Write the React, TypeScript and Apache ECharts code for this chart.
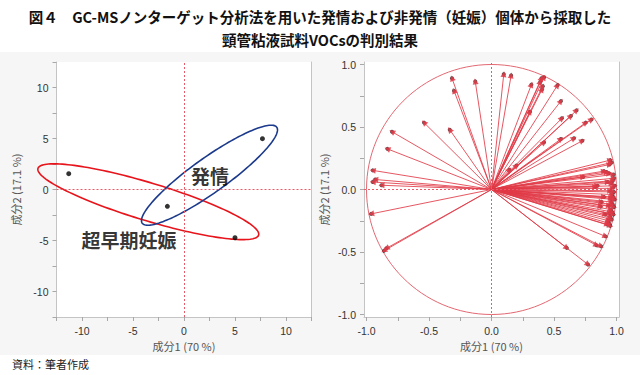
import React, { useEffect, useRef } from "react";
import * as echarts from "echarts";

const titleLines = [
  "図４　GC-MSノンターゲット分析法を用いた発情および非発情（妊娠）個体から採取した",
  "頸管粘液試料VOCsの判別結果",
];
const sourceNote = "資料：筆者作成";
const xName = "成分1 (70 %)";
const yName = "成分2 (17.1 %)";

// Score plot (left)
const scoreX = [-11.3, -1.63, 5.0, 7.69];
const scoreY = [1.55, -1.65, -4.73, 4.98];

// Group ellipses (data units): centre, semi-axes, rotation in degrees
const ellipseCx = [-3.5, 2.5];
const ellipseCy = [-1.2, 1.4];
const ellipseA = [11.3, 8.1];
const ellipseB = [1.85, 1.7];
const ellipseAngle = [-16.8, 35.5];
const ellipseColors = ["#e8141c", "#1c3a8c"];

const groupNames = ["超早期妊娠", "発情"];
const groupLabelX = [-5.4, 2.55];
const groupLabelY = [-4.9, 1.42];

const scoreMin = -12.5;
const scoreMax = 12.5;
const scoreTickStep = 2.5;
const scoreTickLabels = [-10, -5, 0, 5, 10];

// Loading plot (right)
const loadMin = -1.02;
const loadMax = 1.02;
const loadTicks = [-1, -0.75, -0.5, -0.25, 0, 0.25, 0.5, 0.75, 1];
const loadTickLabels = [-1, -0.5, 0, 0.5, 1];
const circleRadius = 1;
const zeroLine = 0;

const loadX = [
  // upper / left side
  -0.316, -0.3, -0.13, -0.54, -0.334, -0.796, -0.833, -0.95, -0.93, -0.95, -0.88, -0.963, -0.86, -0.84,
  // upper right
  0.098, 0.157, 0.319, 0.4, 0.42, 0.39, 0.41, 0.404, 0.528, 0.555, 0.308, 0.563, 0.635, 0.68, 0.754, 0.8,
  0.555, 0.66, 0.727, 0.42, 0.143, 0.2,
  // right cluster
  0.95, 0.945, 0.96, 0.9, 0.94, 0.975, 0.733, 0.92, 0.847, 0.98, 0.97, 0.96, 0.985, 0.97, 0.95, 0.98,
  0.965, 0.975, 0.955, 0.985, 0.96, 0.97, 0.94, 0.873, 0.98, 0.955, 0.965, 0.945, 0.975, 0.95, 0.96,
  0.935, 0.94, 0.926, 0.95, 0.912, 0.84, 0.876, 0.602, 0.772, 0.9, 0.88, 0.83, 0.91, 0.93,
];
const loadY = [
  0.89, 0.79, 0.865, 0.535, 0.478, 0.462, 0.325, 0.153, 0.08, 0.06, 0.034, -0.195, -0.49, -0.47,
  0.923, 0.913, 0.839, 0.89, 0.897, 0.86, 0.826, 0.8, 0.834, 0.707, 0.622, 0.57, 0.588, 0.633, 0.535, 0.56,
  0.404, 0.41, 0.39, 0.377, 0.158, 0.192,
  0.235, 0.2, 0.215, 0.147, 0.13, 0.12, 0.1, 0.14, 0.03, 0.09, 0.07, 0.05, 0.03, 0.01, -0.01, -0.02,
  -0.04, -0.06, -0.07, -0.08, -0.1, -0.12, -0.13, -0.137, -0.14, -0.16, -0.18, -0.19, -0.2, -0.22, -0.24,
  -0.25, -0.27, -0.28, -0.29, -0.375, -0.446, -0.454, -0.467, -0.6, -0.06, -0.1, 0.02, -0.2, 0.06,
];

const AXIS_GRAY = "#c4c4c4";
const TICK_GRAY = "#a8a8a8";
const LABEL_FONT = "Liberation Sans";
const CJK_FONT = "Noto Sans CJK JP";

function makeAxis(kind: "x" | "y", gridIndex: number, min: number, max: number, right: boolean) {
  const base: any = {
    type: "value",
    gridIndex,
    min,
    max,
    name: kind === "x" ? xName : yName,
    nameLocation: "middle",
    nameGap: kind === "x" ? 20 : 35,
    nameTextStyle: { fontSize: 11, color: "#555", fontFamily: CJK_FONT },
    axisLine: { show: true, onZero: false, lineStyle: { color: AXIS_GRAY, width: 1 } },
    splitLine: { show: false },
    axisTick: { show: true, inside: false, length: 4, lineStyle: { color: TICK_GRAY } },
    axisLabel: { color: "#333", fontSize: 10.5, fontFamily: LABEL_FONT, margin: 8 },
  };
  if (!right) {
    base.interval = scoreTickStep;
    base.axisLabel.formatter = (v: number) => (scoreTickLabels.indexOf(v) >= 0 ? String(v) : "");
  } else {
    base.axisTick.customValues = loadTicks;
    base.axisLabel.customValues = loadTickLabels;
    base.axisLabel.formatter = (v: number) => v.toFixed(1);
  }
  return base;
}

function borderAxis(gridIndex: number, min: number, max: number) {
  return {
    type: "value",
    gridIndex,
    position: "right",
    min,
    max,
    axisLine: { show: true, onZero: false, lineStyle: { color: AXIS_GRAY, width: 1 } },
    axisTick: { show: false },
    axisLabel: { show: false },
    splitLine: { show: false },
  };
}

function zeroMarkLine() {
  return {
    silent: true,
    symbol: ["none", "none"],
    label: { show: false },
    lineStyle: { type: [2, 2], color: "#ea5a68", width: 1, opacity: 1 },
    emphasis: { disabled: true },
    data: [
      { xAxis: zeroLine, lineStyle: { color: "#ea5a68", type: [2, 2] } },
      { yAxis: zeroLine, lineStyle: { color: "#ea5a68", type: [2, 2] } },
    ],
  };
}

export default function App() {
  const ref = useRef<HTMLDivElement>(null);

  useEffect(() => {
    if (!ref.current) return;
    const chart = echarts.init(ref.current, undefined, { renderer: "svg" });

    const option: any = {
      animation: false,
      backgroundColor: "#ffffff",
      graphic: [
        {
          type: "rect",
          z: -10,
          silent: true,
          shape: { x: 0, y: 52, width: 640, height: 303 },
          style: { fill: "#f6f6f6" },
        },
        {
          type: "text",
          x: 320,
          y: 16,
          style: {
            text: titleLines[0],
            textAlign: "center",
            textVerticalAlign: "middle",
            font: `bold 14.5px "${CJK_FONT}"`,
            fill: "#111",
          },
        },
        {
          type: "text",
          x: 320,
          y: 39.5,
          style: {
            text: titleLines[1],
            textAlign: "center",
            textVerticalAlign: "middle",
            font: `bold 14.5px "${CJK_FONT}"`,
            fill: "#111",
          },
        },
        {
          type: "text",
          x: 12,
          y: 364,
          style: {
            text: sourceNote,
            textAlign: "left",
            textVerticalAlign: "middle",
            font: `11px "${CJK_FONT}"`,
            fill: "#222",
          },
        },
      ],
      grid: [
        { left: 56.5, top: 62, width: 255, height: 255, show: true, backgroundColor: "#fff", borderWidth: 0 },
        { left: 364, top: 62, width: 255, height: 255, show: true, backgroundColor: "#fff", borderWidth: 0 },
      ],
      xAxis: [makeAxis("x", 0, scoreMin, scoreMax, false), makeAxis("x", 1, loadMin, loadMax, true)],
      yAxis: [
        makeAxis("y", 0, scoreMin, scoreMax, false),
        borderAxis(0, scoreMin, scoreMax),
        makeAxis("y", 1, loadMin, loadMax, true),
        borderAxis(1, loadMin, loadMax),
      ],
      series: [
        // ---- left: zero lines (drawn first, beneath everything)
        {
          type: "scatter",
          xAxisIndex: 0,
          yAxisIndex: 0,
          symbolSize: 0,
          silent: true,
          data: [],
          markLine: zeroMarkLine(),
          z: 1,
        },
        // ---- left: ellipses
        {
          type: "custom",
          xAxisIndex: 0,
          yAxisIndex: 0,
          clip: false,
          silent: true,
          encode: { x: 0, y: 1 },
          data: ellipseCx.map((cx, i) => [cx, ellipseCy[i]]),
          renderItem: (params: any, api: any) => {
            const i = params.dataIndex;
            const th = (ellipseAngle[i] * Math.PI) / 180;
            const pts: number[][] = [];
            const n = 160;
            for (let k = 0; k <= n; k++) {
              const t = (k / n) * Math.PI * 2;
              const u = ellipseA[i] * Math.cos(t);
              const v = ellipseB[i] * Math.sin(t);
              const x = ellipseCx[i] + u * Math.cos(th) - v * Math.sin(th);
              const y = ellipseCy[i] + u * Math.sin(th) + v * Math.cos(th);
              pts.push(api.coord([x, y]));
            }
            return {
              type: "polyline",
              shape: { points: pts },
              style: { fill: "none", stroke: ellipseColors[i], lineWidth: 1.6 },
            };
          },
          z: 2,
        },
        // ---- left: score points
        {
          type: "scatter",
          xAxisIndex: 0,
          yAxisIndex: 0,
          symbol: "circle",
          symbolSize: 5,
          itemStyle: { color: "#000" },
          silent: true,
          data: scoreX.map((x, i) => [x, scoreY[i]]),
          z: 3,
        },
        // ---- left: group labels
        {
          type: "scatter",
          xAxisIndex: 0,
          yAxisIndex: 0,
          symbolSize: 0,
          silent: true,
          data: groupNames.map((name, i) => ({ name, value: [groupLabelX[i], groupLabelY[i]] })),
          label: {
            show: true,
            position: "inside",
            formatter: (p: any) => p.name,
            fontSize: 19,
            fontWeight: "bold",
            color: "#000",
            textBorderWidth: 0,
            fontFamily: CJK_FONT,
          },
          z: 4,
        },
        // ---- right: zero lines
        {
          type: "scatter",
          xAxisIndex: 1,
          yAxisIndex: 2,
          symbolSize: 0,
          silent: true,
          data: [],
          markLine: zeroMarkLine(),
          z: 1,
        },
        // ---- right: unit circle
        {
          type: "custom",
          xAxisIndex: 1,
          yAxisIndex: 2,
          clip: false,
          silent: true,
          encode: { x: 0, y: 1 },
          data: [[zeroLine, zeroLine, circleRadius]],
          renderItem: (params: any, api: any) => {
            const c = api.coord([api.value(0), api.value(1)]);
            const r = api.value(2);
            const px = api.coord([r, 0]);
            const py = api.coord([0, r]);
            return {
              type: "ellipse",
              shape: { cx: c[0], cy: c[1], rx: px[0] - c[0], ry: c[1] - py[1] },
              style: { fill: "none", stroke: "#e36872", lineWidth: 1 },
            };
          },
          z: 2,
        },
        // ---- right: endpoint dots
        {
          type: "scatter",
          xAxisIndex: 1,
          yAxisIndex: 2,
          symbol: "circle",
          symbolSize: 4,
          itemStyle: { color: "#222" },
          silent: true,
          data: loadX.map((x, i) => [x, loadY[i]]),
          z: 2,
        },
        // ---- right: loading vectors
        {
          type: "lines",
          coordinateSystem: "cartesian2d",
          xAxisIndex: 1,
          yAxisIndex: 2,
          silent: true,
          symbol: ["none", "triangle"],
          symbolSize: 6,
          lineStyle: { color: "#e03a46", width: 1, opacity: 0.85 },
          data: loadX.map((x, i) => ({ coords: [[zeroLine, zeroLine], [x, loadY[i]]] })),
          z: 3,
        },
      ],
    };

    chart.setOption(option);
    return () => chart.dispose();
  }, []);

  return (
    <div
      ref={ref}
      style={{ position: "absolute", left: 0, top: 0, width: 640, height: 375 }}
    />
  );
}
